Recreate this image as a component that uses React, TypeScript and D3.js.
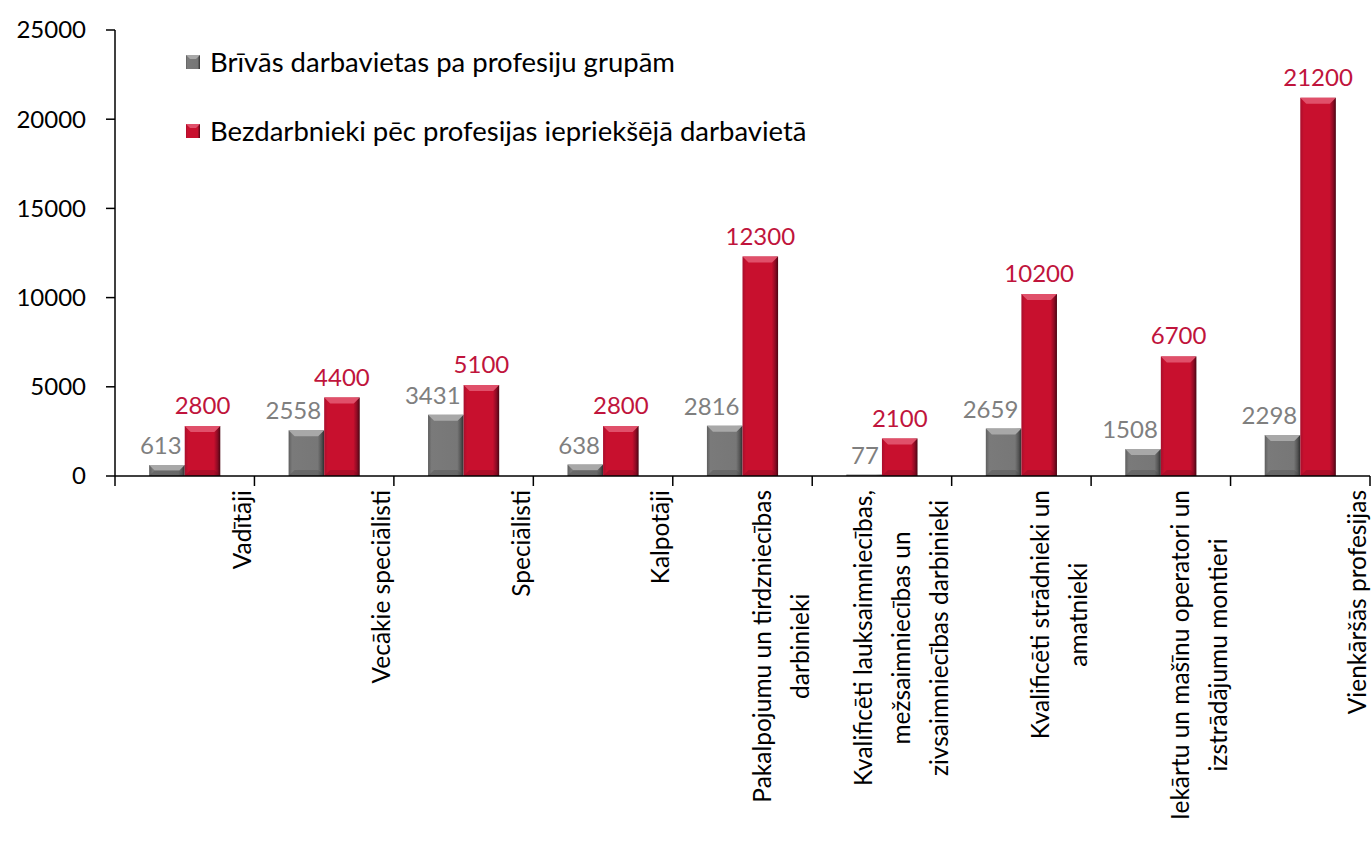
import React, { useEffect, useRef } from "react";
import * as d3 from "d3";

const categories: string[][] = [
  ["Vadītāji"],
  ["Vecākie speciālisti"],
  ["Speciālisti"],
  ["Kalpotāji"],
  ["Pakalpojumu un tirdzniecības", "darbinieki"],
  ["Kvalificēti lauksaimniecības,", "mežsaimniecības un", "zivsaimniecības darbinieki"],
  ["Kvalificēti strādnieki un", "amatnieki"],
  ["Iekārtu un mašīnu operatori un", "izstrādājumu montieri"],
  ["Vienkāršās profesijas"],
];
const vacancies = [613, 2558, 3431, 638, 2816, 77, 2659, 1508, 2298];
const unemployed = [2800, 4400, 5100, 2800, 12300, 2100, 10200, 6700, 21200];
const seriesNames = [
  "Brīvās darbavietas pa profesiju grupām",
  "Bezdarbnieki pēc profesijas iepriekšējā darbavietā",
];
const yTicks = [0, 5000, 10000, 15000, 20000, 25000];

const FONT = "Lato, 'Open Sans', sans-serif";
const GRAY_TEXT = "#7f7f7f";
const RED_TEXT = "#c0143c";

const App = () => {
  const svgRef = useRef<SVGSVGElement>(null);

  useEffect(() => {
    const width = 1371,
      height = 867;
    const left = 115,
      right = 1370,
      top = 30,
      bottom = 476;

    const svg = d3.select(svgRef.current);
    svg.selectAll("*").remove();
    svg.attr("width", width).attr("height", height);

    const defs = svg.append("defs");
    // bevel-ish gradients
    const grad = (id: string, stops: [number, string][]) => {
      const g = defs
        .append("linearGradient")
        .attr("id", id)
        .attr("x1", 0)
        .attr("y1", 0)
        .attr("x2", 1)
        .attr("y2", 0);
      stops.forEach(([o, c]) => g.append("stop").attr("offset", o).attr("stop-color", c));
    };
    grad("redBody", [
      [0, "#a80e2c"],
      [0.1, "#c8102e"],
      [0.82, "#c8102e"],
      [0.92, "#8e0b24"],
      [1, "#4a0512"],
    ]);
    grad("grayBody", [
      [0, "#5e5e5e"],
      [0.1, "#7a7a7a"],
      [0.82, "#777777"],
      [0.92, "#555555"],
      [1, "#2e2e2e"],
    ]);

    const x = d3.scaleBand<number>().domain(d3.range(categories.length)).range([left, right]);
    const inner = d3.scaleBand<number>().domain([0, 1]).range([0, x.bandwidth()]).paddingOuter(0.96).paddingInner(0);
    const y = d3.scaleLinear().domain([0, 25000]).range([bottom, top]);

    const drawBar = (cx: number, v: number, kind: "red" | "gray") => {
      const w = inner.bandwidth();
      const y0 = y(v);
      const h = bottom - y0;
      const g = svg.append("g");
      g.append("rect")
        .attr("x", cx)
        .attr("y", y0)
        .attr("width", w)
        .attr("height", h)
        .attr("fill", `url(#${kind}Body)`);
      const bev = Math.min(6, h / 2);
      // top bevel
      g.append("path")
        .attr("d", `M${cx},${y0} L${cx + w},${y0} L${cx + w - bev},${y0 + bev} L${cx + bev},${y0 + bev} Z`)
        .attr("fill", kind === "red" ? "#e0506a" : "#a8a8a8");
      // bottom shade
      g.append("path")
        .attr("d", `M${cx},${bottom} L${cx + w},${bottom} L${cx + w - bev},${bottom - bev} L${cx + bev},${bottom - bev} Z`)
        .attr("fill", kind === "red" ? "#7a0a20" : "#4a4a4a")
        .attr("opacity", 0.35);
    };

    categories.forEach((_, i) => {
      const gx = (x(i) as number) + (inner(0) as number);
      const rx = (x(i) as number) + (inner(1) as number);
      drawBar(gx, vacancies[i], "gray");
      drawBar(rx, unemployed[i], "red");

      svg
        .append("text")
        .attr("x", rx - 3)
        .attr("y", y(vacancies[i]) - 11)
        .attr("text-anchor", "end")
        .attr("font-family", FONT)
        .attr("font-size", 24)
        .attr("fill", GRAY_TEXT)
        .text(vacancies[i]);
      svg
        .append("text")
        .attr("x", rx + inner.bandwidth() / 2)
        .attr("y", y(unemployed[i]) - 12)
        .attr("text-anchor", "middle")
        .attr("font-family", FONT)
        .attr("font-size", 24)
        .attr("fill", RED_TEXT)
        .text(unemployed[i]);
    });

    // Axes
    const yAxis = svg.append("g");
    yAxis.append("line").attr("x1", left).attr("x2", left).attr("y1", top).attr("y2", bottom).attr("stroke", "#000").attr("stroke-width", 1.5);
    yTicks.forEach((t) => {
      yAxis.append("line").attr("x1", left - 9).attr("x2", left).attr("y1", y(t)).attr("y2", y(t)).attr("stroke", "#000").attr("stroke-width", 1.5);
      yAxis
        .append("text")
        .attr("x", 86)
        .attr("y", y(t))
        .attr("dy", "0.35em")
        .attr("text-anchor", "end")
        .attr("font-family", FONT)
        .attr("font-size", 24)
        .attr("fill", "#000")
        .text(t);
    });

    const xAxis = svg.append("g");
    xAxis.append("line").attr("x1", left).attr("x2", right).attr("y1", bottom).attr("y2", bottom).attr("stroke", "#000").attr("stroke-width", 1.5);
    d3.range(categories.length + 1).forEach((i) => {
      const tx = i < categories.length ? (x(i) as number) : right;
      xAxis.append("line").attr("x1", tx).attr("x2", tx).attr("y1", bottom).attr("y2", bottom + 10).attr("stroke", "#000").attr("stroke-width", 1.5);
    });

    // Category labels (rotated)
    const labelTop = 490;
    categories.forEach((lines, i) => {
      const center = (x(i) as number) + x.bandwidth() / 2;
      const g = xAxis.append("g");
      const texts = lines.map((ln) =>
        g
          .append("text")
          .attr("font-family", FONT)
          .attr("font-size", 24.5)
          .attr("fill", "#000")
          .attr("text-anchor", "middle")
          .text(ln)
      );
      const maxLen = d3.max(texts, (t) => (t.node() as SVGTextElement).getComputedTextLength()) || 0;
      const cy = labelTop + maxLen / 2;
      texts.forEach((t, k) => {
        const bx = center + 66 - (lines.length - 1 - k) * 38;
        t.attr("transform", `translate(${bx},${cy}) rotate(-90)`);
      });
    });

    // Legend
    const legend = svg.append("g");
    seriesNames.forEach((name, i) => {
      const ly = 62 + i * 69;
      const kind = i === 0 ? "gray" : "red";
      legend
        .append("rect")
        .attr("x", 186)
        .attr("y", ly - 7)
        .attr("width", 14)
        .attr("height", 14)
        .attr("fill", `url(#${kind}Body)`);
      legend
        .append("path")
        .attr("d", `M186,${ly - 7} L200,${ly - 7} L196,${ly - 3} L190,${ly - 3} Z`)
        .attr("fill", kind === "red" ? "#e0506a" : "#a8a8a8");
      legend
        .append("text")
        .attr("x", 210)
        .attr("y", ly)
        .attr("dy", "0.35em")
        .attr("font-family", FONT)
        .attr("font-size", 27.5)
        .attr("fill", "#000")
        .text(name);
    });
  }, []);

  return <svg ref={svgRef} style={{ position: "absolute", left: 0, top: 0 }}></svg>;
};

export default App;
